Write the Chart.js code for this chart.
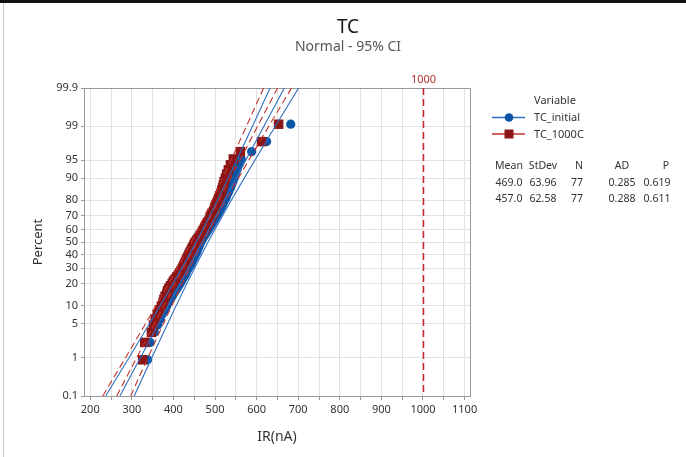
<!DOCTYPE html>
<html><head><meta charset="utf-8">
<script src="https://cdn.jsdelivr.net/npm/chart.js@4.4.1/dist/chart.umd.min.js"></script>
<style>
html,body{margin:0;padding:0;background:#fff;}
#wrap{position:relative;width:686px;height:457px;overflow:hidden;background:#fff;}
#topbar{position:absolute;left:0;top:0;width:686px;height:3px;background:#111;}
#leftbar{position:absolute;left:3px;top:3px;width:1px;height:454px;background:#c8c8c8;}
canvas{position:absolute;left:0;top:0;}
</style></head><body>
<div id="wrap"><canvas id="c" width="686" height="457"></canvas><div id="topbar"></div><div id="leftbar"></div></div>
<script>
// ---------- data ----------
const chartTitle = 'TC';
const chartSubtitle = 'Normal - 95% CI';
const xTitle = 'IR(nA)';
const yTitle = 'Percent';
const legendTitle = 'Variable';
const seriesNames = ['TC_initial', 'TC_1000C'];

const tcInitial = [
  338,344,354,362,368,373,379,384,388,393,
  397,401,405,409,413,416,419,422,425,428,
  430,432,435,437,440,442,444,446,448,450,
  452,454,456,457,459,461,462,464,466,468,
  470,472,475,477,480,482,485,487,490,492,
  495,497,500,502,505,507,510,513,515,518,
  520,523,526,528,531,534,537,540,543,546,
  549,553,557,563,588,624,682
];
const tc1000C = [
  326,331,347,352,356,361,366,371,375,377,
  380,384,386,389,393,397,400,404,408,412,
  415,418,421,423,425,427,429,431,433,435,
  437,439,441,443,445,447,449,451,453,456,
  459,462,464,467,469,471,474,476,478,481,
  483,486,488,490,492,495,497,499,501,503,
  505,507,509,511,514,516,518,520,522,525,
  528,532,537,544,561,612,653
];

const statsHeader  = ['Mean', 'StDev', 'N', 'AD', 'P'];
const statsInitial = ['469.0', '63.96', '77', '0.285', '0.619'];
const stats1000C   = ['457.0', '62.58', '77', '0.288', '0.611'];
const fitInitial = { mean: 469.0, sd: 63.96, n: 77 };
const fit1000C   = { mean: 457.0, sd: 62.58, n: 77 };

const percentTicks = [0.1, 1, 5, 10, 20, 30, 40, 50, 60, 70, 80, 90, 95, 99, 99.9];
const xGridValues = [200,250,300,350,400,450,500,550,600,650,700,750,800,850,900,950,1000,1050,1100];
const refLineValue = 1000;
const refLineLabel = '1000';

// ---------- helpers ----------
function normInv(p){
  const a=[-3.969683028665376e+01,2.209460984245205e+02,-2.759285104469687e+02,1.383577518672690e+02,-3.066479806614716e+01,2.506628277459239e+00];
  const b=[-5.447609879822406e+01,1.615858368580409e+02,-1.556989798598866e+02,6.680131188771972e+01,-1.328068155288572e+01];
  const c=[-7.784894002430293e-03,-3.223964580411365e-01,-2.400758277161838e+00,-2.549732539343734e+00,4.374664141464968e+00,2.938163982698783e+00];
  const d=[7.784695709041462e-03,3.224671290700398e-01,2.445134137142996e+00,3.754408661907416e+00];
  const pl=0.02425, ph=1-pl; let q,r;
  if(p<pl){q=Math.sqrt(-2*Math.log(p));return (((((c[0]*q+c[1])*q+c[2])*q+c[3])*q+c[4])*q+c[5])/((((d[0]*q+d[1])*q+d[2])*q+d[3])*q+1);}
  if(p<=ph){q=p-0.5;r=q*q;return (((((a[0]*r+a[1])*r+a[2])*r+a[3])*r+a[4])*r+a[5])*q/(((((b[0]*r+b[1])*r+b[2])*r+b[3])*r+b[4])*r+1);}
  q=Math.sqrt(-2*Math.log(1-p));return -(((((c[0]*q+c[1])*q+c[2])*q+c[3])*q+c[4])*q+c[5])/((((d[0]*q+d[1])*q+d[2])*q+d[3])*q+1);
}
// median-rank plotting positions
function probPoints(vals){
  const n = vals.length;
  return vals.map((v,i)=>({x:v, y:normInv((i+1-0.3)/(n+0.4))}));
}
// fitted line and 95% CI bands
function fitLine(f, k){
  return percentTicks.map(pc=>{
    const z = normInv(pc/100);
    const se = f.sd*Math.sqrt(1/f.n + z*z/(2*f.n));
    return {x: f.mean + f.sd*z + k*1.96*se, y: z};
  });
}

const FONT = "'Noto Sans', 'Open Sans', sans-serif";
const BLUE = '#0b55a6', BLUE_LINE = '#2f6fc2';
const RED = '#8c1515', RED_LINE = '#c0302c';
const zMin = normInv(percentTicks[0]/100), zMax = normInv(percentTicks[percentTicks.length-1]/100);

const lineDs = (data, color, dash)=>({data, showLine:true, borderColor:color, borderWidth:1.1, borderDash:dash, pointRadius:0, fill:false, order:0});
const datasets = [
  lineDs(fitLine(fitInitial,-1), BLUE_LINE, []),
  lineDs(fitLine(fitInitial, 0), BLUE_LINE, []),
  lineDs(fitLine(fitInitial, 1), BLUE_LINE, []),
  lineDs(fitLine(fit1000C,-1), RED_LINE, [7,4]),
  lineDs(fitLine(fit1000C, 0), RED_LINE, [7,4]),
  lineDs(fitLine(fit1000C, 1), RED_LINE, [7,4]),
  {label: seriesNames[1], data: probPoints(tc1000C), pointStyle:'rect', pointRadius:6.7, backgroundColor:RED, borderColor:RED, borderWidth:0, order:1},
  {label: seriesNames[0], data: probPoints(tcInitial), pointStyle:'circle', pointRadius:4.6, backgroundColor:BLUE, borderColor:BLUE, borderWidth:0, order:2}
];

const decor = {
  id:'decor',
  beforeDatasetsDraw(chart){
    const {ctx, chartArea:a, scales:{x}} = chart;
    ctx.save();
    ctx.strokeStyle = '#9a9a9a'; ctx.lineWidth = 1;
    ctx.strokeRect(a.left+0.5, a.top+0.5, a.right-a.left, a.bottom-a.top);
    const rx = Math.round(x.getPixelForValue(refLineValue))+0.5;
    ctx.strokeStyle = '#c8282d'; ctx.lineWidth = 1.5; ctx.setLineDash([7,4]);
    ctx.beginPath(); ctx.moveTo(rx, a.top); ctx.lineTo(rx, a.bottom); ctx.stroke();
    ctx.setLineDash([]);
    ctx.fillStyle = '#b0302a'; ctx.font = '11px '+FONT; ctx.textAlign='center'; ctx.textBaseline='middle';
    ctx.fillText(refLineLabel, rx, 80);
    ctx.restore();
  },
  afterDraw(chart){
    const ctx = chart.ctx;
    ctx.save();
    ctx.textBaseline = 'middle'; ctx.textAlign = 'center';
    ctx.fillStyle = '#1a1a1a'; ctx.font = '19px '+FONT;
    ctx.fillText(chartTitle, 348, 28);
    ctx.fillStyle = '#555'; ctx.font = '14px '+FONT;
    ctx.fillText(chartSubtitle, 348, 47);
    // legend
    ctx.font = '11px '+FONT; ctx.fillStyle = '#333'; ctx.textAlign = 'left';
    ctx.fillText(legendTitle, 534, 101);
    ctx.strokeStyle = BLUE_LINE; ctx.lineWidth = 1.5;
    ctx.beginPath(); ctx.moveTo(492,117.5); ctx.lineTo(525,117.5); ctx.stroke();
    ctx.fillStyle = BLUE; ctx.beginPath(); ctx.arc(509,117.5,4.3,0,Math.PI*2); ctx.fill();
    ctx.strokeStyle = RED_LINE;
    ctx.beginPath(); ctx.moveTo(492,134); ctx.lineTo(525,134); ctx.stroke();
    ctx.fillStyle = RED; ctx.fillRect(504.5,129.5,9,9);
    ctx.fillStyle = '#333';
    ctx.fillText(seriesNames[0], 534, 118);
    ctx.fillText(seriesNames[1], 534, 134.5);
    ctx.textAlign = 'center';
    ctx.font = '10.5px '+FONT;
    const hx = [509, 543, 579, 622, 666];
    const vx = [509, 543, 577, 622, 657];
    statsHeader.forEach((t,i)=>ctx.fillText(t, hx[i], 166));
    statsInitial.forEach((t,i)=>ctx.fillText(t, vx[i], 183));
    stats1000C.forEach((t,i)=>ctx.fillText(t, vx[i], 199));
    ctx.restore();
  }
};

new Chart(document.getElementById('c'), {
  type: 'scatter',
  data: { datasets },
  options: {
    responsive: false, animation: false, devicePixelRatio: 1,
    layout: { padding: { top: 88, right: 216, bottom: 0, left: 0 } },
    plugins: { legend: { display: false }, tooltip: { enabled: false }, title: { display: false } },
    scales: {
      x: {
        type: 'linear', min: 185, max: 1113,
        afterBuildTicks: s => { s.ticks = xGridValues.map(v => ({ value: v })); },
        afterFit: s => { s.height = 61; },
        ticks: { callback: v => (v % 100 === 0 ? String(v) : ''), font: { family: FONT, size: 11 }, color: '#333', padding: 3, maxRotation: 0, autoSkip: false },
        grid: { color: '#e2e2e2', tickColor: '#999', tickLength: 4 },
        border: { display: true, color: '#9a9a9a' },
        title: { display: true, text: xTitle, font: { family: FONT, size: 14 }, color: '#333', padding: { top: 0, bottom: 12 } }
      },
      y: {
        type: 'linear', min: zMin, max: zMax,
        afterBuildTicks: s => { s.ticks = percentTicks.map(p => ({ value: normInv(p / 100) })); },
        afterFit: s => { s.width = 84; },
        ticks: { callback: (v, i) => String(percentTicks[i]), font: { family: FONT, size: 11 }, color: '#333', padding: 3, autoSkip: false },
        grid: { color: '#e2e2e2', tickColor: '#999', tickLength: 3 },
        border: { display: true, color: '#9a9a9a' },
        title: { display: true, text: yTitle, font: { family: FONT, size: 13 }, color: '#333', padding: { top: 30, bottom: 0 } }
      }
    }
  },
  plugins: [decor]
});
</script>
</body></html>
